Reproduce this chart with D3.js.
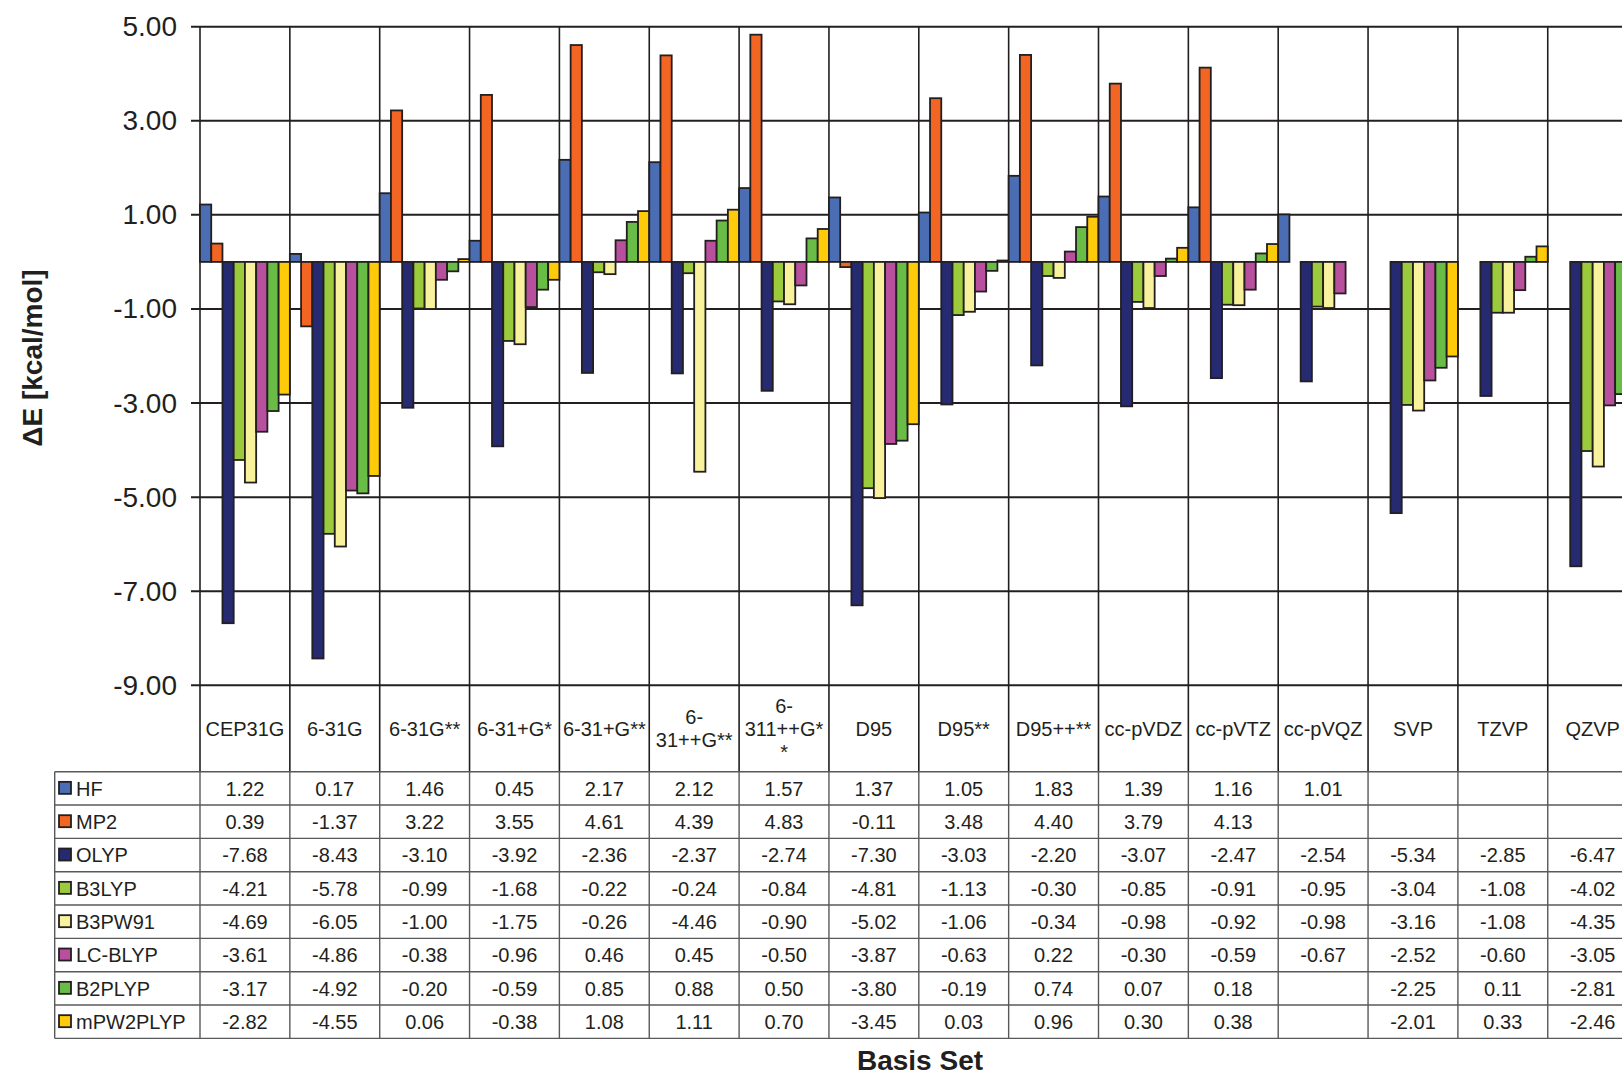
<!DOCTYPE html>
<html>
<head>
<meta charset="utf-8">
<script src="https://cdn.jsdelivr.net/npm/d3@7"></script>
<style>
  body { margin: 0; background: #fff; }
  text { font-family: "Liberation Sans", Arial, sans-serif; fill: #231f20; }
</style>
</head>
<body>
<svg id="chart" width="1622" height="1078"></svg>
<script>
var categories = ["CEP31G", "6-31G", "6-31G**", "6-31+G*", "6-31+G**", "6-31++G**", "6-311++G**",
                  "D95", "D95**", "D95++**", "cc-pVDZ", "cc-pVTZ", "cc-pVQZ", "SVP", "TZVP", "QZVP"];
// how the narrow cells wrap the long names
var wrapped = { "6-31++G**": ["6-", "31++G**"], "6-311++G**": ["6-", "311++G*", "*"] };

var seriesNames = ["HF", "MP2", "OLYP", "B3LYP", "B3PW91", "LC-BLYP", "B2PLYP", "mPW2PLYP"];
var seriesColors = ["#4a6db3", "#f26522", "#262a70", "#9bca3c", "#f8f29c", "#b8509e", "#69bc45", "#fecb0a"];

var HF       = [1.22, 0.17, 1.46, 0.45, 2.17, 2.12, 1.57, 1.37, 1.05, 1.83, 1.39, 1.16, 1.01, null, null, null];
var MP2      = [0.39, -1.37, 3.22, 3.55, 4.61, 4.39, 4.83, -0.11, 3.48, 4.40, 3.79, 4.13, null, null, null, null];
var OLYP     = [-7.68, -8.43, -3.10, -3.92, -2.36, -2.37, -2.74, -7.30, -3.03, -2.20, -3.07, -2.47, -2.54, -5.34, -2.85, -6.47];
var B3LYP    = [-4.21, -5.78, -0.99, -1.68, -0.22, -0.24, -0.84, -4.81, -1.13, -0.30, -0.85, -0.91, -0.95, -3.04, -1.08, -4.02];
var B3PW91   = [-4.69, -6.05, -1.00, -1.75, -0.26, -4.46, -0.90, -5.02, -1.06, -0.34, -0.98, -0.92, -0.98, -3.16, -1.08, -4.35];
var LCBLYP   = [-3.61, -4.86, -0.38, -0.96, 0.46, 0.45, -0.50, -3.87, -0.63, 0.22, -0.30, -0.59, -0.67, -2.52, -0.60, -3.05];
var B2PLYP   = [-3.17, -4.92, -0.20, -0.59, 0.85, 0.88, 0.50, -3.80, -0.19, 0.74, 0.07, 0.18, null, -2.25, 0.11, -2.81];
var mPW2PLYP = [-2.82, -4.55, 0.06, -0.38, 1.08, 1.11, 0.70, -3.45, 0.03, 0.96, 0.30, 0.38, null, -2.01, 0.33, -2.46];

var yTicks = [5, 3, 1, -1, -3, -5, -7, -9];

var allSeries = [HF, MP2, OLYP, B3LYP, B3PW91, LCBLYP, B2PLYP, mPW2PLYP];

var svg = d3.select("#chart");

var plotLeft = 200, catW = 89.85;
var plotTop = 26.7, plotBottom = 685.3;
var labelRowBottom = 771.7, rowH = 33.33;
var tableLeft = 54.7;
var tableBottom = labelRowBottom + rowH * seriesNames.length;
var plotRight = plotLeft + catW * categories.length;

var x = d3.scaleBand().domain(categories).range([plotLeft, plotRight]).padding(0);
var xs = d3.scaleBand().domain(seriesNames).range([0, x.bandwidth()]).padding(0);
var y = d3.scaleLinear().domain([-9, 5]).range([plotBottom, plotTop]);

var fmt = function(d) { return d.toFixed(2); };

// horizontal grid lines + ticks
svg.append("g").selectAll("line")
    .data(yTicks)
    .enter().append("line")
        .attr("x1", plotLeft - 9)
        .attr("x2", plotRight)
        .attr("y1", function(d) { return y(d); })
        .attr("y2", function(d) { return y(d); })
        .attr("stroke", "#231f20")
        .attr("stroke-width", 2);

// y axis labels
var yAxis = d3.axisLeft(y).tickValues(yTicks).tickFormat(fmt).tickSize(0).tickPadding(0);
var yg = svg.append("g").attr("transform", "translate(177,0)").call(yAxis);
yg.select(".domain").remove();
yg.selectAll("text")
    .attr("font-family", "Liberation Sans, Arial, sans-serif")
    .attr("font-size", 28)
    .attr("fill", "#231f20");

// vertical category lines through plot, label row and table
var bounds = d3.range(categories.length + 1).map(function(i) { return plotLeft + i * catW; });
svg.append("g").selectAll("line")
    .data(bounds)
    .enter().append("line")
        .attr("x1", function(d) { return d; })
        .attr("x2", function(d) { return d; })
        .attr("y1", plotTop)
        .attr("y2", labelRowBottom)
        .attr("stroke", "#231f20")
        .attr("stroke-width", 1.6);
svg.append("g").selectAll("line")
    .data(bounds)
    .enter().append("line")
        .attr("x1", function(d) { return d; })
        .attr("x2", function(d) { return d; })
        .attr("y1", labelRowBottom)
        .attr("y2", tableBottom)
        .attr("stroke", "#58595b")
        .attr("stroke-width", 1.4);

// bars
var groups = svg.append("g").selectAll("g")
    .data(categories)
    .enter().append("g")
        .attr("transform", function(d) { return "translate(" + x(d) + ",0)"; });

groups.selectAll("rect")
    .data(function(c, i) {
        return seriesNames.map(function(s, j) { return { s: s, j: j, v: allSeries[j][i] }; })
            .filter(function(d) { return d.v != null; });
    })
    .enter().append("rect")
        .attr("x", function(d) { return xs(d.s); })
        .attr("width", xs.bandwidth())
        .attr("y", function(d) { return y(Math.max(0, d.v)); })
        .attr("height", function(d) { return Math.abs(y(d.v) - y(0)); })
        .attr("fill", function(d) { return seriesColors[d.j]; })
        .attr("stroke", "#231f20")
        .attr("stroke-width", 1.8);

// category label row
var labelMid = (plotBottom + labelRowBottom) / 2;
svg.append("g").selectAll("text")
    .data(categories)
    .enter().append("text")
        .attr("text-anchor", "middle")
        .attr("font-size", 20)
        .attr("x", function(d) { return x(d) + x.bandwidth() / 2; })
        .each(function(d) {
            var lines = wrapped[d] || [d];
            var lh = 23;
            var y0 = labelMid - (lines.length - 1) * lh / 2;
            d3.select(this).selectAll("tspan")
                .data(lines)
                .enter().append("tspan")
                    .attr("x", x(d) + x.bandwidth() / 2)
                    .attr("y", function(l, k) { return y0 + k * lh; })
                    .attr("dy", "0.36em")
                    .text(function(l) { return l; });
        });

// table horizontal lines
svg.append("g").selectAll("line")
    .data(d3.range(seriesNames.length + 1))
    .enter().append("line")
        .attr("x1", tableLeft)
        .attr("x2", plotRight)
        .attr("y1", function(i) { return labelRowBottom + i * rowH; })
        .attr("y2", function(i) { return labelRowBottom + i * rowH; })
        .attr("stroke", "#58595b")
        .attr("stroke-width", 1.4);
svg.append("line")
    .attr("x1", tableLeft).attr("x2", tableLeft)
    .attr("y1", labelRowBottom).attr("y2", tableBottom)
    .attr("stroke", "#58595b").attr("stroke-width", 1.4);

// table rows: legend key + values
var rows = svg.append("g").selectAll("g")
    .data(seriesNames)
    .enter().append("g")
        .attr("transform", function(d, j) { return "translate(0," + (labelRowBottom + j * rowH) + ")"; });

rows.append("rect")
    .attr("x", 59)
    .attr("y", rowH / 2 - 6.5)
    .attr("width", 12)
    .attr("height", 12)
    .attr("fill", function(d, j) { return seriesColors[j]; })
    .attr("stroke", "#231f20")
    .attr("stroke-width", 1.8);

rows.append("text")
    .attr("x", 76)
    .attr("y", rowH / 2)
    .attr("dy", "0.36em")
    .attr("font-size", 20)
    .text(function(d) { return d; });

rows.selectAll("text.val")
    .data(function(d, j) {
        return categories.map(function(c, i) { return { c: c, v: allSeries[j][i] }; })
            .filter(function(d) { return d.v != null; });
    })
    .enter().append("text")
        .attr("class", "val")
        .attr("text-anchor", "middle")
        .attr("font-size", 20)
        .attr("x", function(d) { return x(d.c) + x.bandwidth() / 2; })
        .attr("y", rowH / 2)
        .attr("dy", "0.36em")
        .text(function(d) { return fmt(d.v); });

// axis titles
svg.append("text")
    .attr("transform", "translate(42," + ((plotTop + plotBottom) / 2 + 2) + ") rotate(-90)")
    .attr("text-anchor", "middle")
    .attr("font-size", 28)
    .attr("font-weight", "bold")
    .text("\u0394E [kcal/mol]");

svg.append("text")
    .attr("x", 920)
    .attr("y", 1070)
    .attr("text-anchor", "middle")
    .attr("font-size", 28)
    .attr("font-weight", "bold")
    .text("Basis Set");
</script>
</body>
</html>
